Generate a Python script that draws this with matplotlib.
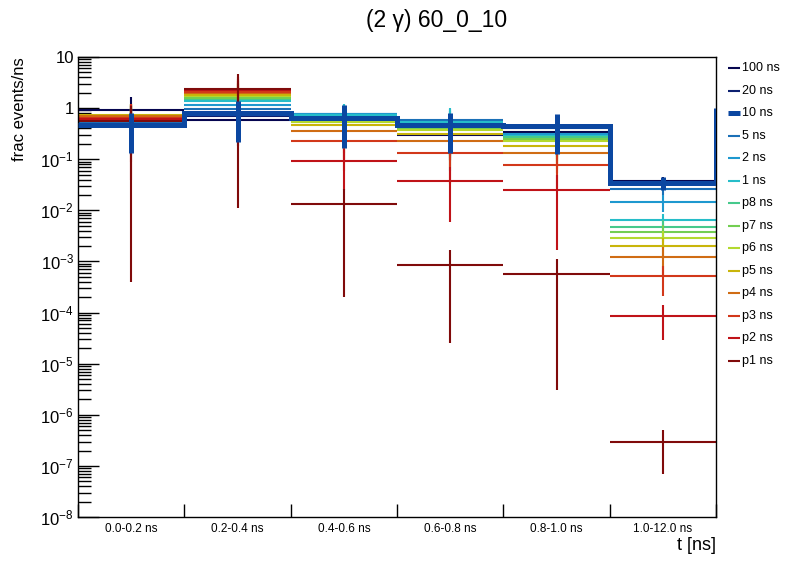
import numpy as np
import matplotlib
matplotlib.use('Agg')
import matplotlib.pyplot as plt
from matplotlib.lines import Line2D
from matplotlib.ticker import FixedLocator, FuncFormatter, NullFormatter

plt.rcParams['font.family'] = ['Liberation Sans', 'DejaVu Sans']
plt.rcParams['mathtext.fontset'] = 'custom'
plt.rcParams['mathtext.rm'] = 'Liberation Sans'
plt.rcParams['mathtext.it'] = 'Liberation Sans:italic'

# bins (categories)
bins = ['0.0-0.2 ns', '0.2-0.4 ns', '0.4-0.6 ns', '0.6-0.8 ns', '0.8-1.0 ns', '1.0-12.0 ns']

labels = ['100 ns', '20 ns', '10 ns', '5 ns', '2 ns', '1 ns', 'p8 ns', 'p7 ns',
          'p6 ns', 'p5 ns', 'p4 ns', 'p3 ns', 'p2 ns', 'p1 ns']
colors = ['#06064f', '#0c2070', '#0b47a1', '#1b70b7', '#1e98cf', '#26bdc9', '#46c98c',
          '#73ce52', '#b3d92f', '#c9b50a', '#d06c14', '#d2381a', '#c01318', '#800a0a']

# values / errors per lifetime
v100 = [0.91, 0.58, 0.637, 0.296, 0.344, 0.038]
e100 = [0.75, 0.40, 0.35, 0.20, 0.20, 0.006]
v20 = [0.49, 0.70, 0.70, 0.43, 0.406, 0.036]
e20 = [0.35, 0.45, 0.40, 0.30, 0.25, 0.007]
v10 = [0.46, 0.80, 0.65, 0.465, 0.445, 0.035]
e10 = [0.33, 0.58, 0.485, 0.333, 0.32, 0.010]
over10 = 1.0  # right edge of 10 ns histogram
v5 = [0.53, 0.955, 0.76, 0.58, 0.425, 0.026]
e5 = [0.40, 0.60, 0.40, 0.30, 0.25, 0.006]
v2 = [0.57, 1.14, 0.75, 0.54, 0.317, 0.0147]
e2 = [0.45, 0.70, 0.45, 0.40, 0.20, 0.0055]
v1 = [0.62, 1.40, 0.73, 0.53, 0.29, 0.0065]
e1 = [0.50, 0.90, 0.50, 0.47, 0.18, 0.0020]
vp8 = [0.64, 1.50, 0.58, 0.406, 0.27, 0.00475]
ep8 = [0.50, 1.00, 0.40, 0.30, 0.17, 0.0016]
vp7 = [0.66, 1.60, 0.556, 0.397, 0.253, 0.0038]
ep7 = [0.52, 1.10, 0.38, 0.28, 0.16, 0.0014]
vp6 = [0.68, 1.72, 0.53, 0.38, 0.226, 0.0029]
ep6 = [0.53, 1.20, 0.36, 0.26, 0.14, 0.0011]
vp5 = [0.72, 1.84, 0.465, 0.314, 0.183, 0.0020]
ep5 = [0.50, 1.30, 0.33, 0.22, 0.12, 0.0009]
vp4 = [0.70, 1.97, 0.36, 0.229, 0.133, 0.00123]
ep4 = [0.52, 1.45, 0.26, 0.16, 0.08, 0.0007]
vp3 = [0.64, 2.10, 0.229, 0.133, 0.0776, 0.00052]
ep3 = [0.55, 1.60, 0.17, 0.10, 0.05, 0.00031]
vp2 = [0.60, 2.25, 0.093, 0.0376, 0.0249, 8.6e-5]
ep2 = [0.56, 1.90, 0.068, 0.0316, 0.0232, 5.7e-5]
vp1 = [0.56, 2.35, 0.0132, 8.5e-4, 5.6e-4, 2.9e-7]
ep1 = [0.5596, 2.339, 0.0130, 8.25e-4, 5.57e-4, 2.2e-7]

vals = [v100, v20, v10, v5, v2, v1, vp8, vp7, vp6, vp5, vp4, vp3, vp2, vp1]
errs = [e100, e20, e10, e5, e2, e1, ep8, ep7, ep6, ep5, ep4, ep3, ep2, ep1]

W, H = 796, 572
fig = plt.figure(figsize=(W / 100, H / 100), dpi=100)
ax = fig.add_axes([78 / W, 1 - 517 / H, 638 / W, 460 / H])

edges = np.arange(len(bins) + 1)
centers = edges[:-1] + 0.5

for i in range(len(labels)):
    if labels[i] == '10 ns':
        continue
    v = np.array(vals[i]); e = np.array(errs[i])
    ax.hlines(v, edges[:-1], edges[1:], color=colors[i], lw=1.5, zorder=2 + i * 0.01)
    ax.vlines(centers, v - e, v + e, color=colors[i], lw=1.5, zorder=2 + i * 0.01)

# 10 ns on top, thick
i10 = labels.index('10 ns')
v = np.array(v10); e = np.array(e10)
ax.stairs(v, edges, baseline=None, color=colors[i10], lw=3.6, zorder=5)
ax.vlines([edges[-1]], v[-1], over10, color=colors[i10], lw=3.6, zorder=5)
ax.vlines(centers, v - e, v + e, color=colors[i10], lw=3.6, zorder=5)

ax.set_yscale('log')
ax.set_xlim(0, len(bins))
ax.set_ylim(1e-8, 10)

def yfmt(y, pos):
    n = int(round(np.log10(y)))
    if n == 1:
        return '10'
    if n == 0:
        return '1'
    return r'$10^{%d}$' % n

ax.yaxis.set_major_locator(FixedLocator([10.0 ** k for k in range(-8, 2)]))
ax.yaxis.set_minor_locator(FixedLocator([m * 10.0 ** k for k in range(-8, 1) for m in range(2, 10)]))
ax.yaxis.set_major_formatter(FuncFormatter(yfmt))
ax.yaxis.set_minor_formatter(NullFormatter())
ax.tick_params(axis='y', which='major', direction='in', length=15, width=1, labelsize=12, pad=3, right=False)
ax.tick_params(axis='y', which='minor', direction='in', length=9, width=1, right=False)

ax.set_xticks(edges)
ax.set_xticklabels([])
ax.set_xticks(centers, minor=True)
ax.set_xticklabels(bins, minor=True)
ax.tick_params(axis='x', which='major', direction='in', length=9.5, width=1, top=False)
ax.tick_params(axis='x', which='minor', length=0, labelsize=8.5, pad=4)

for s in ax.spines.values():
    s.set_linewidth(1.0)

ax.set_ylabel('frac events/ns', loc='top', fontsize=12)
ax.yaxis.set_label_coords(-(78 - 27) / 638, 1.0)
ax.set_xlabel('t [ns]', loc='right', fontsize=13)
ax.xaxis.set_label_coords(1.0, -(537 - 517) / 460)

fig.text(437 / W, 1 - 20 / H, '(2 γ) 60_0_10', ha='center', va='center', fontsize=16.5)

# legend
for i, lab in enumerate(labels):
    yy = 1 - (68.3 + 22.5 * i) / H
    lw = 3.6 if lab == '10 ns' else 1.5
    fig.add_artist(Line2D([727.5 / W, 740 / W], [yy, yy], color=colors[i], lw=lw,
                          solid_capstyle='butt'))
    fig.text(742.5 / W, yy, lab, ha='left', va='center', fontsize=9)

fig.savefig('out.png', dpi=100)
